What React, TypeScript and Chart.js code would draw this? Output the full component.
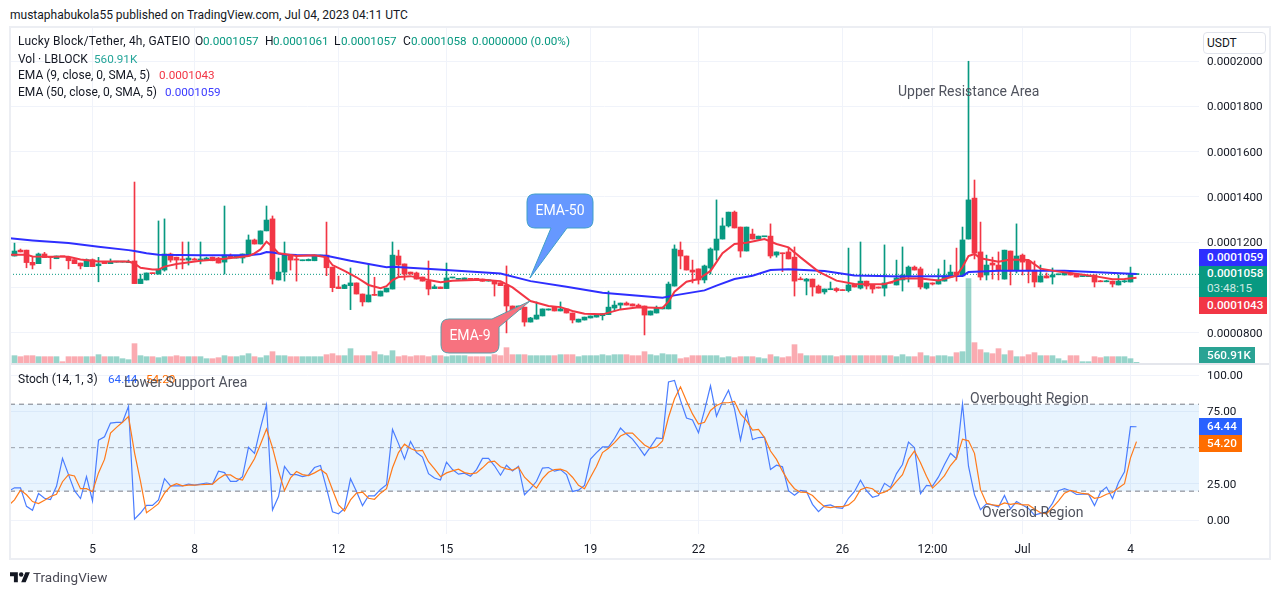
import React, { useEffect, useRef } from 'react';
import { Chart, registerables } from 'chart.js';

Chart.register(...registerables);

// prices are stored x 1e7, so 1057 reads 0.0001057
const opens = [
  1139,1165,1165,1111,1105,1148,1136,1127,1137,1133,
  1123,1108,1092,1123,1096,1114,1105,1112,1112,1110,
  1117,1017,1033,1064,1059,1077,1148,1134,1126,1121,
  1126,1121,1121,1134,1130,1112,1139,1130,1130,1139,
  1210,1192,1250,1303,1033,1068,1143,1126,1118,1118,
  1118,1139,1143,1090,1002,995,1008,1020,971,936,
  968,962,980,993,1139,1104,1068,1064,1046,1028,
  995,1002,995,1042,1036,1034,1037,1037,1037,1028,
  1028,1021,1011,918,903,913,847,860,874,900,
  913,896,905,887,847,856,865,869,875,880,
  909,922,931,927,922,918,878,887,905,905,
  1006,1165,1139,1077,1082,1033,1086,1165,1214,1272,
  1333,1267,1161,1236,1214,1224,1227,1143,1152,1157,
  1134,1037,1028,1037,1006,980,990,995,990,986,
  1015,997,1028,1011,1002,997,1020,1011,1033,1051,
  1090,1082,997,1020,1015,1028,1046,1068,1051,1214,
  1395,1157,1055,1108,1099,1037,1161,1077,1143,1117,
  1077,1024,1051,1046,1056,1055,1064,1059,1048,1048,
  1055,1028,1025,1028,1011,1025,1024,1057,
];
const closes = [
  1161,1157,1110,1099,1148,1132,1132,1139,1136,1118,
  1105,1095,1123,1092,1104,1105,1112,1113,1113,1112,
  1017,1037,1064,1061,1081,1148,1121,1121,1121,1130,
  1121,1126,1130,1118,1108,1143,1132,1139,1148,1210,
  1192,1250,1298,1037,1068,1143,1121,1121,1121,1124,
  1143,1143,1087,999,995,1011,1020,971,936,967,
  965,984,997,1143,1099,1059,1059,1037,1028,993,
  1003,995,1042,1043,1037,1042,1036,1036,1027,1034,
  1015,1008,918,900,918,847,865,878,905,905,
  896,905,887,856,860,869,874,881,884,913,
  922,931,922,918,912,878,896,909,913,1015,
  1170,1139,1077,1068,1033,1095,1170,1214,1272,1333,
  1263,1161,1267,1214,1227,1225,1139,1157,1149,1126,
  1028,1034,1037,1002,975,993,993,986,986,1011,
  1002,1028,1006,993,997,1020,1019,1042,1055,1090,
  1077,1002,1020,1015,1033,1051,1068,1055,1210,1387,
  1152,1046,1099,1099,1077,1165,1073,1139,1112,1077,
  1024,1051,1042,1055,1059,1064,1055,1046,1050,1050,
  1024,1025,1028,1015,1028,1028,1059,1058,
];
const highs = [
  1196,1170,1165,1133,1152,1155,1136,1139,1137,1133,
  1123,1108,1126,1126,1133,1114,1126,1113,1113,1121,
  1466,1059,1064,1064,1294,1303,1152,1134,1201,1201,
  1130,1201,1134,1134,1133,1360,1148,1139,1148,1232,
  1214,1250,1360,1316,1130,1201,1143,1142,1121,1126,
  1143,1143,1289,1090,1050,1014,1086,1020,971,1105,
  1045,984,997,1201,1165,1104,1068,1068,1046,1117,
  1011,1002,1108,1044,1038,1042,1037,1037,1037,1034,
  1028,1021,1095,918,918,913,868,936,905,905,
  913,936,905,887,860,869,874,881,884,984,
  940,931,936,927,927,918,896,918,913,1024,
  1188,1201,1139,1121,1082,1099,1175,1387,1307,1333,
  1338,1267,1267,1258,1227,1226,1281,1157,1152,1174,
  1179,1046,1040,1037,1011,993,1024,999,990,1174,
  1015,1201,1028,1011,1002,1188,1020,1121,1179,1095,
  1095,1090,1020,1020,1082,1121,1099,1174,1267,2000,
  1475,1289,1143,1134,1157,1165,1161,1281,1148,1121,
  1117,1099,1064,1086,1059,1064,1064,1059,1050,1050,
  1055,1031,1031,1028,1055,1031,1090,1061,
];
const lows = [
  1139,1157,1087,1082,1105,1132,1082,1127,1136,1082,
  1105,1082,1092,1092,1025,1105,1105,1112,1112,1110,
  1017,1017,1033,1061,1059,1072,1112,1082,1082,1099,
  1121,1104,1121,1118,1108,1059,1132,1130,1108,1139,
  1192,1192,1250,1015,1033,1028,1077,1028,1118,1118,
  1118,1139,1052,981,995,995,902,971,918,936,
  965,962,980,993,1050,1033,1059,1037,1028,967,
  995,995,995,1042,1036,1034,1036,1036,1027,1028,
  962,1008,799,900,903,829,847,860,874,900,
  896,896,887,843,847,856,865,869,856,880,
  896,905,922,918,912,790,878,887,905,905,
  1006,1082,1077,1020,1015,1020,1059,1121,1214,1267,
  1263,1134,1161,1214,1214,1224,1130,1134,1070,1126,
  962,1034,967,962,975,971,990,980,986,980,
  1002,993,993,975,997,962,1019,1011,984,1024,
  1077,993,993,1011,1015,1028,1046,1028,1051,1214,
  1126,1033,1033,1037,1033,1037,1011,1064,1055,1020,
  1002,1024,1042,1015,1056,1055,1055,1046,1048,1048,
  1002,1025,1025,1002,1011,1022,1024,1057,
];
// volume in millions of LBLOCK
const volumes = [
  5.87,5.07,5.87,5.87,5.07,5.07,5.07,5.07,1.07,5.07,
  5.07,5.07,5.07,5.07,6.67,5.07,5.07,5.07,3.47,2.67,
  15.49,5.87,5.07,5.07,4.27,5.07,5.07,5.87,5.07,5.07,
  5.07,5.07,3.47,3.47,4.27,5.87,5.07,5.07,5.87,7.47,
  5.07,4.27,5.87,9.07,5.87,5.87,5.07,5.07,5.07,5.07,
  5.07,5.07,6.67,7.47,5.87,5.87,11.48,5.87,5.87,5.87,
  9.07,6.67,5.87,9.87,5.07,5.87,5.07,5.87,5.87,5.07,
  5.87,5.87,5.07,5.87,5.87,5.87,5.07,5.07,5.07,5.07,
  6.67,5.87,12.28,6.67,6.67,6.67,5.87,5.87,5.87,5.87,
  5.87,6.67,6.67,6.67,5.07,5.87,5.87,5.87,6.67,5.87,
  6.67,6.67,6.67,5.87,5.87,9.07,6.67,5.87,7.47,6.67,
  6.67,3.47,4.27,5.87,5.87,5.87,5.87,5.87,4.27,5.07,
  4.27,5.07,5.07,5.07,4.27,3.47,6.67,5.07,4.27,5.07,
  14.68,7.47,5.87,5.87,5.87,5.87,5.87,5.07,5.87,5.87,
  5.87,5.87,5.87,5.87,5.87,5.87,5.87,5.07,6.67,5.07,
  5.07,8.27,5.87,5.07,5.87,5.87,5.07,8.27,9.07,67.55,
  16.29,10.68,8.27,7.47,11.48,6.67,9.87,5.07,5.07,6.67,
  8.27,5.87,5.87,5.87,3.47,1.87,5.87,5.87,1.07,1.07,
  5.07,4.27,5.07,5.07,5.07,5.07,3.47,0.56,
];

// EMA lines, read at their turning points
const ema9At = [-1,0,2,3,9,11,14,19,20,21,23,24,25,27,31,35,39,40,41,42,43,44,45,47,50,52,53,55,57,59,61,62,63,64,66,69,71,73,78,81,83,86,89,91,93,95,98,101,104,108,109,110,112,114,116,118,120,122,125,127,129,131,134,137,140,145,148,151,154,157,158,159,160,161,164,166,169,171,174,180,183,185,187];
const ema9 = [1145,1145,1145,1137,1136,1124,1115,1115,1106,1087,1079,1079,1092,1104,1118,1127,1139,1151,1168,1202,1180,1151,1148,1139,1142,1133,1099,1073,1045,1011,997,1006,1033,1046,1050,1033,1023,1030,1034,1028,1000,940,918,913,896,884,881,903,912,909,937,981,1025,1037,1073,1151,1192,1198,1214,1192,1177,1133,1070,1030,1015,1014,1040,1040,1031,1052,1090,1139,1148,1129,1114,1124,1121,1083,1070,1050,1036,1037,1043];
const ema50At = [-1,3,9,14,19,20,22,24,31,39,41,42,43,45,47,52,56,62,63,70,81,86,92,98,103,108,110,115,117,120,123,126,129,135,140,148,158,159,164,175,187];
const ema50 = [1218,1208,1196,1180,1165,1161,1151,1145,1142,1142,1148,1157,1154,1146,1143,1140,1118,1089,1092,1080,1062,1028,1003,977,966,955,965,987,1008,1037,1052,1077,1081,1073,1053,1048,1051,1068,1074,1074,1059];

// stochastic values start one bar before the first candle
const stochK = [
  20,
  22.3,22.3,9.5,6.8,18.4,15.1,14.2,23.3,42.6,31.4,
  20.3,14.9,30,13.3,55.2,57.5,67,67.5,67.5,78.5,
  0.7,4.9,10.2,10.2,14,28.6,23.7,23.7,23.7,24.9,
  24.2,24.9,25.6,24.9,33.8,32.8,26.8,26.8,30,50.3,
  46.1,63.6,79.6,7,16.3,37,31.4,31.4,30,31,
  36.3,37.7,22.1,5.8,4.4,8.1,28.6,19.8,10,16.8,
  16.8,21.2,24.4,62.6,52.8,42.1,54.2,46.6,43.5,32.1,
  29.1,27.7,40,34.9,31.7,32.4,30.3,34.9,42.6,42.6,
  37.5,31,37.9,34,37.2,17.5,21.7,26.8,35.9,36.3,
  33.8,34.9,31.4,19.8,20.7,24,42.1,46.6,50.5,50.5,
  56.3,63.6,59.4,55.9,50.5,44.7,50.5,56.8,56.3,95.4,
  96.4,82.6,70.5,69.1,60.3,75.7,92.7,71.7,81.5,89.6,
  76.8,55.2,75,55.6,57,57.3,34.9,37.9,36.8,20.3,
  17.2,20.5,19.8,10.9,5.8,9.8,10.5,8.6,8.1,15.1,
  19.8,27.5,20.3,15.8,17,25.4,22.6,32.1,38.4,53.8,
  50,18.2,24,23.5,29.8,38.4,46.1,42.4,80.3,37.2,
  17.5,7.2,11.2,10.5,9.1,17,7.7,12.8,10.5,8.1,
  3.5,4.7,5.8,11.6,20.3,21.7,20.3,17.7,17.9,17.9,
  10,19.3,22.8,14.9,26,33.3,64.5,64.44,
];
const stochD = [
  10,
  14,20.7,17.5,12.8,11.4,13.7,16.3,17.9,26.5,31.4,
  30.5,21.7,21.7,19.6,32.6,41.9,60,64,67.5,71.5,
  46.6,26.8,5.1,8.1,11.4,18.6,23.3,25.1,23.7,24.2,
  24.2,24.4,24.7,24.9,28.6,31.2,31.2,28.6,27.7,35.4,
  42.4,52.4,62.9,50,33.8,20.3,29.1,33.5,31.4,30.7,
  32.6,34.9,31.9,21,10.5,6.3,14,18.6,19.3,15.1,
  14.4,18.6,21.7,36.1,46.6,52.4,49.4,47.7,48.2,40.3,
  35.4,30,32.6,34,35.2,32.8,31.9,32.6,36.1,40,
  40.7,36.8,35.4,34.5,36.5,29.6,25.6,22.1,28.6,33,
  34.9,35.2,33.8,29.6,24,21.7,29.6,37.2,46.6,49.6,
  53.5,58,60,60,55.9,51.9,49.6,50.5,54.7,71,
  83.8,92,82.2,73.3,66.3,67.5,75.7,79.1,81,81,
  81.9,73.3,68.7,62.2,62.6,57,47.7,41.9,33.8,26.8,
  21.7,19.3,19.1,17,12.8,9.3,8.6,9.3,9.3,10.5,
  14,21,22.6,21.7,18.2,19.3,21.7,26.8,31.4,41.9,
  47.7,39.6,30.3,22.1,26,30.7,37.7,42.6,55.9,54.7,
  46.1,21,11.6,10.5,10,11.9,10.9,11.6,10.5,10.5,
  7.7,5.1,4.4,8.6,13.3,18.6,20.5,19.3,18.4,17.9,
  15.1,15.8,17.9,19.1,22.1,25.1,43,54.2,
];

const lastPrice = 1058;
const priceTicks = [800, 1000, 1200, 1400, 1600, 1800, 2000];
const stochTicks = [0, 25, 75, 100];
const dateTickAt = [13, 30, 54, 72, 96, 114, 138, 153, 168, 186];
const dateTickLabels = ['5', '8', '12', '15', '19', '22', '26', '12:00', 'Jul', '4'];

const UP = '#089981';
const DOWN = '#F23645';
const GRID = '#F0F3FA';
const FONT = 'Roboto, "Noto Sans", sans-serif';

// 6px per bar, plot runs from x=10 to x=1199
const xMin = -0.75;
const xMax = xMin + 1189 / 6;

const xAxis = (showLabels: boolean, height: number) => ({
  type: 'linear',
  min: xMin,
  max: xMax,
  offset: false,
  afterBuildTicks: (s: any) => { s.ticks = dateTickAt.map((value) => ({ value })); },
  afterFit: (s: any) => { s.height = height; },
  border: { display: false },
  grid: { color: GRID, offset: false, drawTicks: false },
  ticks: {
    display: showLabels,
    autoSkip: false,
    maxRotation: 0,
    padding: 9,
    color: '#131722',
    font: { family: FONT, size: 12 },
    callback: (v: number) => dateTickLabels[dateTickAt.indexOf(v)] ?? '',
  },
});

const yAxisCommon = (ticksAt: number[], format: (v: number) => string) => ({
  position: 'right',
  afterBuildTicks: (s: any) => { s.ticks = ticksAt.map((value) => ({ value })); },
  afterFit: (s: any) => {
    s.width = 71;
    // tick labels may overflow the pane, they must not shrink the plot
    s.paddingTop = 0;
    s.paddingBottom = 0;
    s._margins.top = 0;
    s._margins.bottom = 0;
  },
  border: { display: false },
  grid: { color: GRID, drawTicks: false },
  ticks: {
    autoSkip: false,
    padding: 8,
    labelOffset: 1,
    color: '#131722',
    font: { family: FONT, size: 11.7 },
    callback: format,
  },
});

const lineSet = (data: any[], color: string, width: number, extra: any = {}) => ({
  type: 'line',
  data,
  borderColor: color,
  borderWidth: width,
  pointRadius: 0,
  tension: 0,
  fill: false,
  ...extra,
});

const App: React.FC = () => {
  const priceRef = useRef<HTMLCanvasElement>(null);
  const stochRef = useRef<HTMLCanvasElement>(null);

  useEffect(() => {
    const candleColors = closes.map((c, i) => (c >= opens[i] ? UP : DOWN));
    const volColors = closes.map((c, i) => (c >= opens[i] ? 'rgba(8,153,129,0.42)' : 'rgba(242,54,69,0.42)'));

    const priceChart = new Chart(priceRef.current as HTMLCanvasElement, {
      type: 'bar',
      data: {
        datasets: [
          {
            label: 'Vol',
            yAxisID: 'yVol',
            data: volumes.map((y, x) => ({ x, y })),
            backgroundColor: volColors,
            barThickness: 5,
            grouped: false,
            order: 5,
          },
          lineSet([{ x: xMin, y: lastPrice }, { x: xMax, y: lastPrice }], UP, 1, { yAxisID: 'y', borderDash: [1, 2], order: 4 }),
          {
            label: 'Wick',
            yAxisID: 'y',
            data: lows.map((l, x) => ({ x, y: [l, highs[x]] })),
            backgroundColor: candleColors,
            barThickness: 1,
            grouped: false,
            order: 3,
          },
          {
            label: 'Body',
            yAxisID: 'y',
            data: opens.map((o, x) => ({ x, y: [o, closes[x]] })),
            backgroundColor: candleColors,
            barThickness: 5,
            minBarLength: 1,
            grouped: false,
            order: 2,
          },
          lineSet(ema50At.map((x, i) => ({ x, y: ema50[i] })), '#2E2EFF', 2, { yAxisID: 'y', order: 1 }),
          lineSet(ema9At.map((x, i) => ({ x, y: ema9[i] })), '#F23645', 2, { yAxisID: 'y', order: 0 }),
        ],
      } as any,
      options: {
        responsive: false,
        animation: false,
        layout: { padding: 0, autoPadding: false },
        plugins: { legend: { display: false }, tooltip: { enabled: false } },
        scales: {
          x: xAxis(false, 0),
          y: { ...yAxisCommon(priceTicks, (v) => (v / 1e7).toFixed(7)), min: 666, max: 2147 },
          yVol: { display: false, position: 'left', min: 0, max: 268 },
        },
      } as any,
    });

    const stochChart = new Chart(stochRef.current as HTMLCanvasElement, {
      type: 'line',
      data: {
        datasets: [
          lineSet([{ x: xMin, y: 80 }, { x: xMax, y: 80 }], '#787B86', 1, {
            borderDash: [5, 4],
            fill: { target: { value: 20 } },
            backgroundColor: 'rgba(33,150,243,0.1)',
            order: 5,
          }),
          lineSet([{ x: xMin, y: 50 }, { x: xMax, y: 50 }], 'rgba(120,123,134,0.7)', 1, { borderDash: [5, 4], order: 4 }),
          lineSet([{ x: xMin, y: 20 }, { x: xMax, y: 20 }], '#787B86', 1, { borderDash: [5, 4], order: 3 }),
          lineSet(stochK.map((y, i) => ({ x: i - 1, y })), '#4A7DFF', 1.2, { order: 1 }),
          lineSet(stochD.map((y, i) => ({ x: i - 1, y })), '#FF7A1A', 1.2, { order: 0 }),
        ],
      } as any,
      options: {
        responsive: false,
        animation: false,
        layout: { padding: 0, autoPadding: false },
        plugins: { legend: { display: false }, tooltip: { enabled: false } },
        scales: {
          x: xAxis(true, 26),
          y: { ...yAxisCommon(stochTicks, (v) => v.toFixed(2)), min: -9.57, max: 107.05 },
        },
      } as any,
    });

    return () => {
      priceChart.destroy();
      stochChart.destroy();
    };
  }, []);

  const text = (left: number, center: number, content: React.ReactNode, style: React.CSSProperties = {}) => (
    <div style={{ position: 'absolute', left, top: center - 9, lineHeight: '18px', whiteSpace: 'pre', ...style }}>{content}</div>
  );
  const value = (left: number, center: number, content: string, color: string) =>
    text(left, center, content, { color, fontSize: 11.7 });
  const tag = (top: number, bottom: number, width: number, bg: string, content: React.ReactNode) => (
    <div style={{
      position: 'absolute', left: 1199, top, width: width - 8, height: bottom - top, paddingLeft: 8, background: bg,
      color: '#fff', lineHeight: `${bottom - top}px`, fontWeight: 500, fontSize: 11.7, whiteSpace: 'pre',
    }}>{content}</div>
  );
  const annotation = { color: '#50535E', fontSize: 14 };

  return (
    <div style={{ position: 'absolute', left: 0, top: 0, width: 1281, height: 595, background: '#fff', overflow: 'hidden', fontFamily: FONT, fontSize: 12, color: '#131722' }}>
      <canvas ref={priceRef} width={1260} height={335} style={{ position: 'absolute', left: 10, top: 28, display: 'block' }} />
      <canvas ref={stochRef} width={1260} height={195} style={{ position: 'absolute', left: 10, top: 365, display: 'block' }} />

      {/* outer frame and pane separator */}
      <div style={{ position: 'absolute', left: 9, top: 26, width: 1258, height: 530, border: '2px solid #ECEEF3' }} />
      <div style={{ position: 'absolute', left: 11, top: 363, width: 1258, height: 2, background: '#E4E6EC' }} />

      {text(10, 15, 'mustaphabukola55 published on TradingView.com, Jul 04, 2023 04:11 UTC')}
      {text(18, 41, 'Lucky Block/Tether, 4h, GATEIO', { letterSpacing: 0.2 })}
      {text(195, 41, 'O')}{value(203, 41, '0.0001057', UP)}
      {text(265, 41, 'H')}{value(273, 41, '0.0001061', UP)}
      {text(334, 41, 'L')}{value(341, 41, '0.0001057', UP)}
      {text(403, 41, 'C')}{value(411, 41, '0.0001058', UP)}
      {value(472, 41, '0.0000000 (0.00%)', UP)}
      {text(18, 59, 'Vol · LBLOCK')}{value(94, 59, '560.91K', '#26A69A')}
      {text(18, 75, 'EMA (9, close, 0, SMA, 5)')}{value(159, 75, '0.0001043', DOWN)}
      {text(18, 92, 'EMA (50, close, 0, SMA, 5)')}{value(165, 92, '0.0001059', '#3C3CFF')}
      {text(18, 379, 'Stoch (14, 1, 3)')}{value(108, 379, '64.44', '#2962FF')}{value(146, 379, '54.20', '#FF6D00')}

      {text(898, 91, 'Upper Resistance Area', annotation)}
      {text(124, 382, 'Lower Support Area', annotation)}
      {text(970, 398, 'Overbought Region', annotation)}
      {text(982, 512, 'Oversold Region', annotation)}

      <div style={{ position: 'absolute', left: 1203, top: 32, width: 61, height: 20, border: '1px solid #E0E3EB', borderRadius: 4, lineHeight: '20px', background: '#fff' }}>
        <span style={{ marginLeft: 3 }}>USDT</span>
      </div>

      {tag(249, 266, 68, '#2E2EFF', '0.0001059')}
      <div style={{ position: 'absolute', left: 1199, top: 266, width: 60, height: 31, paddingLeft: 8, background: UP, color: '#fff', whiteSpace: 'pre', lineHeight: '15px', fontWeight: 500, fontSize: 11.7 }}>
        0.0001058{'\n'}<span style={{ opacity: 0.8, fontWeight: 400 }}>03:48:15</span>
      </div>
      {tag(297, 314, 68, DOWN, '0.0001043')}
      {tag(347, 363, 56, '#2AA394', '560.91K')}
      {tag(418, 435, 43, '#2962FF', '64.44')}
      {tag(435, 452, 43, '#FF6D00', '54.20')}

      {/* drawing-tool callouts from the published idea */}
      <svg width={1281} height={595} style={{ position: 'absolute', left: 0, top: 0, pointerEvents: 'none' }}>
        <path d="M535 194 H585 Q593 194 593 202 V220 Q593 228 585 228 H567 L530 278 L551 228 H535 Q527 228 527 220 V202 Q527 194 535 194 Z"
          fill="#6698FF" stroke="#3F9FC8" strokeWidth={1} />
        <text x={560} y={215} textAnchor="middle" fill="#fff" fontFamily={FONT} fontSize={14}>EMA-50</text>
        <path d="M449 319 H492 L530 301 L499 327 V345 Q499 353 491 353 H449 Q441 353 441 345 V327 Q441 319 449 319 Z"
          fill="#F7727F" stroke="#5A9DA8" strokeWidth={1} />
        <text x={470} y={340} textAnchor="middle" fill="#fff" fontFamily={FONT} fontSize={14}>EMA-9</text>
        <g transform="translate(10 570) scale(0.56)">
          <path d="M14 22H7V11H0V4h14v18zM28 22h-8l7.5-18h8L28 22z" fill="#131722" />
          <circle cx={20} cy={8} r={4} fill="#131722" />
        </g>
      </svg>
      {text(33, 577, 'TradingView', { fontSize: 13.5, color: '#4A4A55' })}
    </div>
  );
};

export default App;
